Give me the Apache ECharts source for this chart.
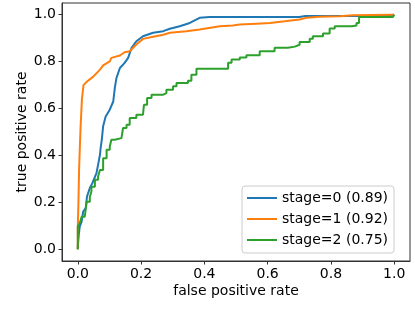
<!DOCTYPE html>
<html>
<head>
<meta charset="utf-8">
<script src="https://cdn.jsdelivr.net/npm/echarts@6/dist/echarts.min.js"></script>
<style>html,body{margin:0;padding:0;background:#fff;}#c{width:415px;height:311px;}</style>
</head>
<body>
<div id="c"></div>
<script>
const tickValues = [0, 0.2, 0.4, 0.6, 0.8, 1.0];
const seriesNames = ['stage=0 (0.89)', 'stage=1 (0.92)', 'stage=2 (0.75)'];
const colors = ['#1f77b4', '#ff7f0e', '#2ca02c'];
const stepModes = [false, false, 'end'];

const stage0Fpr = [0,0,0.003,0.006,0.012,0.017,0.025,0.029,0.038,0.046,0.059,0.064,0.070,0.072,0.076,0.080,0.088,0.101,0.112,0.117,0.122,0.133,0.148,0.159,0.170,0.185,0.206,0.238,0.270,0.291,0.322,0.354,0.385,0.417,0.70,0.72,0.97,1.0];
const stage0Tpr = [0,0.011,0.061,0.097,0.118,0.161,0.175,0.225,0.261,0.282,0.325,0.360,0.403,0.430,0.470,0.524,0.566,0.595,0.630,0.688,0.730,0.773,0.795,0.816,0.859,0.887,0.908,0.923,0.930,0.940,0.951,0.965,0.987,0.990,0.990,0.995,0.995,1.0];

const stage1Fpr = [0,0,0.002,0.004,0.006,0.009,0.013,0.018,0.029,0.048,0.070,0.080,0.101,0.106,0.133,0.148,0.164,0.185,0.206,0.238,0.270,0.291,0.343,0.385,0.449,0.490,0.512,0.565,0.607,0.654,0.701,0.723,0.765,0.828,0.869,0.991,1.0];
const stage1Tpr = [0,0.10,0.20,0.34,0.42,0.53,0.64,0.70,0.715,0.735,0.766,0.784,0.801,0.816,0.826,0.840,0.844,0.873,0.897,0.906,0.915,0.923,0.930,0.937,0.951,0.954,0.958,0.962,0.965,0.972,0.980,0.987,0.991,0.994,0.998,1.0,1.0];

const stage2Fpr = [0,0,0.006,0.012,0.022,0.028,0.038,0.043,0.043,0.054,0.064,0.070,0.080,0.091,0.101,0.106,0.117,0.138,0.143,0.154,0.164,0.185,0.206,0.209,0.219,0.233,0.270,0.280,0.301,0.312,0.348,0.359,0.375,0.464,0.475,0.486,0.512,0.533,0.575,0.622,0.664,0.686,0.701,0.733,0.743,0.775,0.796,0.812,0.866,0.881,0.889,0.996,1.0];
const stage2Tpr = [0,0.097,0.111,0.139,0.146,0.203,0.224,0.246,0.267,0.296,0.310,0.338,0.388,0.424,0.438,0.467,0.474,0.481,0.517,0.531,0.560,0.574,0.581,0.616,0.645,0.659,0.666,0.680,0.695,0.709,0.719,0.744,0.770,0.770,0.795,0.809,0.818,0.827,0.844,0.859,0.864,0.872,0.884,0.898,0.908,0.920,0.941,0.951,0.954,0.965,0.990,0.994,1.0];

const zip = (a, b) => a.map((v, i) => [v, b[i]]);
const allData = [zip(stage0Fpr, stage0Tpr), zip(stage1Fpr, stage1Tpr), zip(stage2Fpr, stage2Tpr)];

const font = 'DejaVu Sans';
const axisCommon = {
  type: 'value', min: -0.05, max: 1.05,
  nameLocation: 'middle',
  nameMoveOverlap: false,
  nameTextStyle: { fontFamily: font, fontSize: 14, color: '#000' },
  axisLine: { show: true, onZero: false, lineStyle: { color: '#333', width: 1 } },
  axisTick: { show: true, length: 3.5, customValues: tickValues, lineStyle: { color: '#333', width: 1 } },
  axisLabel: { show: true, customValues: tickValues, margin: 6, fontFamily: font, fontSize: 14, color: '#000', formatter: v => v.toFixed(1) },
  splitLine: { show: false }
};

const chart = echarts.init(document.getElementById('c'), null, { renderer: 'canvas' });
chart.setOption({
  animation: false,
  backgroundColor: '#fff',
  grid: { left: 62, right: 5, top: 3, bottom: 50, show: true, borderColor: '#333', borderWidth: 1, backgroundColor: 'transparent' },
  xAxis: Object.assign({}, axisCommon, { name: 'false positive rate', nameGap: 23 }),
  yAxis: Object.assign({}, axisCommon, { name: 'true positive rate', nameGap: 33 }),
  legend: {
    orient: 'vertical', left: 242, top: 186,
    icon: 'rect',
    itemWidth: 30, itemHeight: 2, itemGap: 7, itemTextGap: 10,
    padding: [5, 6, 6, 5],
    backgroundColor: 'rgba(255,255,255,0.8)', borderColor: '#ccc', borderWidth: 1, borderRadius: 3,
    textStyle: { fontFamily: font, fontSize: 14, color: '#000', lineHeight: 14 },
    data: seriesNames
  },
  series: seriesNames.map((n, i) => ({
    name: n, type: 'line', data: allData[i], symbol: 'none', showSymbol: false, step: stepModes[i],
    color: colors[i], itemStyle: { color: colors[i] }, lineStyle: { color: colors[i], width: 2 }
  }))
});
</script>
</body>
</html>
